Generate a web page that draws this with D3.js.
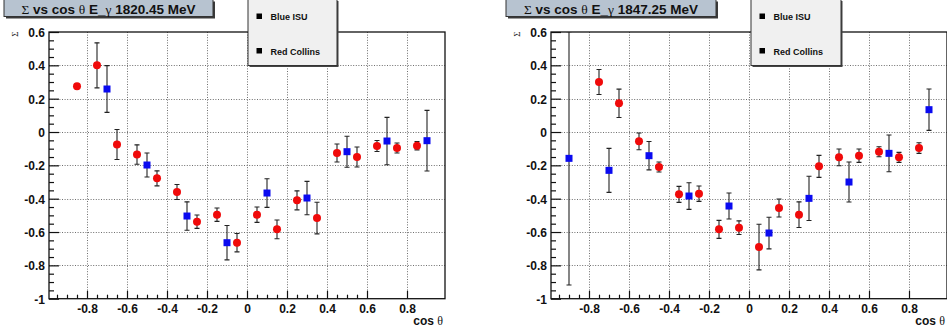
<!DOCTYPE html>
<html><head><meta charset="utf-8">
<script src="https://cdn.jsdelivr.net/npm/d3@7"></script>
<style>
html,body{margin:0;padding:0;background:#fff;}
svg{display:block;}
</style></head>
<body>
<svg id="chart" width="947" height="334"></svg>
<script>
// ---------- data ----------
const energies = ["1820.45", "1847.25"];

const cosCollins1820 = [-0.85,-0.75,-0.65,-0.55,-0.45,-0.35,-0.25,-0.15,-0.05,0.05,0.15,0.25,0.35,0.45,0.55,0.65,0.75,0.85];
const sigCollins1820 = [0.275,0.40,-0.075,-0.135,-0.278,-0.36,-0.538,-0.496,-0.664,-0.496,-0.584,-0.41,-0.516,-0.126,-0.15,-0.084,-0.096,-0.082];
const errCollins1820 = [0,0.135,0.09,0.058,0.045,0.045,0.04,0.04,0.055,0.046,0.056,0.057,0.095,0.054,0.06,0.033,0.03,0.025];

const cosISU1820 = [-0.7,-0.5,-0.3,-0.1,0.1,0.3,0.5,0.7,0.9];
const sigISU1820 = [0.258,-0.198,-0.504,-0.664,-0.366,-0.396,-0.118,-0.054,-0.052];
const errISU1820 = [0.14,0.072,0.085,0.103,0.086,0.1,0.093,0.142,0.182];

const cosCollins1847 = [-0.75,-0.65,-0.55,-0.45,-0.35,-0.25,-0.15,-0.05,0.05,0.15,0.25,0.35,0.45,0.55,0.65,0.75,0.85];
const sigCollins1847 = [0.30,0.172,-0.056,-0.21,-0.374,-0.37,-0.584,-0.574,-0.69,-0.456,-0.496,-0.206,-0.152,-0.142,-0.118,-0.152,-0.096];
const errCollins1847 = [0.075,0.085,0.05,0.03,0.048,0.046,0.054,0.041,0.137,0.054,0.077,0.066,0.05,0.04,0.03,0.03,0.032];

const cosISU1847 = [-0.9,-0.7,-0.5,-0.3,-0.1,0.1,0.3,0.5,0.7,0.9];
const sigISU1847 = [-0.158,-0.23,-0.142,-0.384,-0.444,-0.606,-0.398,-0.30,-0.128,0.134];
const errISU1847 = [0.76,0.132,0.085,0.08,0.078,0.095,0.133,0.12,0.11,0.124];

const xMajorTicks = [-0.8,-0.6,-0.4,-0.2,0,0.2,0.4,0.6,0.8];
const yMajorTicks = [-1,-0.8,-0.6,-0.4,-0.2,0,0.2,0.4,0.6];
const legendLabels = ["Blue ISU", "Red Collins"];
const xTitle = "cos θ";
const yTitle = "Σ";

// ---------- layout ----------
const panels = [
  {energy: energies[0], left: 49, titleBox: [4, 213], legendBox: [248, 337],
   collins: {x: cosCollins1820, y: sigCollins1820, e: errCollins1820},
   isu: {x: cosISU1820, y: sigISU1820, e: errISU1820}},
  {energy: energies[1], left: 551, titleBox: [506, 716], legendBox: [751, 841],
   collins: {x: cosCollins1847, y: sigCollins1847, e: errCollins1847},
   isu: {x: cosISU1847, y: sigISU1847, e: errISU1847}}
];

const plotW = 396, plotTop = 32, plotBottom = 298.7;
const SANS = "'Liberation Sans', Arial, Helvetica, sans-serif";
const SERIF = "'Liberation Serif', 'DejaVu Serif', serif";
const RED = "#f00a0a", BLUE = "#0a0af0";

const svg = d3.select("#chart");
const fmt = d => String(+d.toFixed(1));
const minor = d3.range(-20, 13).map(i => +(i * 0.05).toFixed(2));

panels.forEach((p, pi) => {
  const x = d3.scaleLinear().domain([-0.99, 0.99]).range([p.left, p.left + plotW]);
  const y = d3.scaleLinear().domain([-1, 0.6]).range([plotBottom, plotTop]);
  const g = svg.append("g");

  const clipId = "clip" + pi;
  svg.append("clipPath").attr("id", clipId).append("rect")
    .attr("x", p.left).attr("y", plotTop).attr("width", plotW).attr("height", plotBottom - plotTop);

  // grid
  const grid = g.append("g").attr("stroke", "#6e6e6e").attr("stroke-width", 1)
    .attr("stroke-dasharray", "1,1.6");
  grid.selectAll(".gx").data(xMajorTicks).join("line")
    .attr("x1", d => Math.round(x(d)) + 0.5).attr("x2", d => Math.round(x(d)) + 0.5)
    .attr("y1", plotTop).attr("y2", plotBottom);
  grid.selectAll(".gy").data(yMajorTicks.filter(d => d > -1 && d < 0.6)).join("line")
    .attr("y1", d => Math.round(y(d)) + 0.5).attr("y2", d => Math.round(y(d)) + 0.5)
    .attr("x1", p.left).attr("x2", p.left + plotW);

  // minor ticks
  const xMinor = minor.filter(d => d > -0.99 && d < 0.99 && !xMajorTicks.some(m => Math.abs(m - d) < 1e-6));
  const yMinor = minor.filter(d => d > -1 && d < 0.6 && !yMajorTicks.some(m => Math.abs(m - d) < 1e-6));
  g.append("g").attr("transform", `translate(0,${plotBottom})`)
    .call(d3.axisBottom(x).tickValues(xMinor).tickSizeInner(-4).tickSizeOuter(0).tickFormat(""))
    .call(a => a.select(".domain").remove())
    .call(a => a.selectAll("line").attr("stroke", "#111").attr("stroke-width", 1.2));
  g.append("g").attr("transform", `translate(${p.left},0)`)
    .call(d3.axisLeft(y).tickValues(yMinor).tickSizeInner(-5).tickSizeOuter(0).tickFormat(""))
    .call(a => a.select(".domain").remove())
    .call(a => a.selectAll("line").attr("stroke", "#111").attr("stroke-width", 1.2));

  // major ticks with labels
  g.append("g").attr("transform", `translate(0,${plotBottom})`)
    .call(d3.axisBottom(x).tickValues(xMajorTicks).tickSizeInner(-8).tickSizeOuter(0).tickPadding(6).tickFormat(fmt))
    .call(a => a.select(".domain").remove())
    .call(a => a.selectAll("line").attr("stroke", "#111").attr("stroke-width", 1.2))
    .call(a => a.selectAll("text").attr("font-family", SANS).attr("font-weight", "bold")
      .attr("font-size", 12).attr("fill", "#111").attr("dy", "0.71em"));
  g.append("g").attr("transform", `translate(${p.left},0)`)
    .call(d3.axisLeft(y).tickValues(yMajorTicks).tickSizeInner(-10).tickSizeOuter(0).tickPadding(4).tickFormat(fmt))
    .call(a => a.select(".domain").remove())
    .call(a => a.selectAll("line").attr("stroke", "#111").attr("stroke-width", 1.2))
    .call(a => a.selectAll("text").attr("font-family", SANS).attr("font-weight", "bold")
      .attr("font-size", 12).attr("fill", "#111").attr("dy", "0.36em"));

  // frame
  g.append("rect").attr("x", p.left).attr("y", plotTop).attr("width", plotW).attr("height", plotBottom - plotTop)
    .attr("fill", "none").attr("stroke", "#111").attr("stroke-width", 1.3);

  // axis titles
  const xt = g.append("text").attr("x", p.left + plotW - 2).attr("y", 325)
    .attr("text-anchor", "end").attr("font-family", SANS).attr("font-weight", "bold")
    .attr("font-size", 12).attr("fill", "#111");
  xt.append("tspan").text(xTitle.split(" ")[0] + " ");
  xt.append("tspan").attr("font-family", SERIF).attr("font-weight", "normal").text(xTitle.split(" ")[1]);
  g.append("text").attr("transform", `translate(${p.left - 31},${34}) rotate(-90)`)
    .attr("text-anchor", "middle").attr("font-family", SERIF).attr("font-size", 9)
    .attr("fill", "#222").text(yTitle);

  // data
  const dg = g.append("g").attr("clip-path", `url(#${clipId})`);
  const series = [
    {s: p.collins, color: RED, shape: "circle"},
    {s: p.isu, color: BLUE, shape: "square"}
  ];
  series.forEach(({s, color, shape}) => {
    const pts = s.x.map((v, i) => ({x: v, y: s.y[i], e: s.e[i]}));
    const eb = dg.append("g").attr("stroke", "#222").attr("stroke-width", 1.1);
    pts.filter(d => d.e > 0).forEach(d => {
      const cx = x(d.x);
      eb.append("line").attr("x1", cx).attr("x2", cx).attr("y1", y(d.y + d.e)).attr("y2", y(d.y - d.e));
      eb.append("line").attr("x1", cx - 2.5).attr("x2", cx + 2.5).attr("y1", y(d.y + d.e)).attr("y2", y(d.y + d.e));
      eb.append("line").attr("x1", cx - 2.5).attr("x2", cx + 2.5).attr("y1", y(d.y - d.e)).attr("y2", y(d.y - d.e));
    });
    if (shape === "circle") {
      dg.append("g").selectAll("circle").data(pts).join("circle")
        .attr("cx", d => x(d.x)).attr("cy", d => y(d.y)).attr("r", 4).attr("fill", color);
    } else {
      dg.append("g").selectAll("rect").data(pts).join("rect")
        .attr("x", d => x(d.x) - 3.5).attr("y", d => y(d.y) - 3.5)
        .attr("width", 7).attr("height", 7).attr("fill", color);
    }
  });

  // title box
  const [tx0, tx1] = p.titleBox;
  g.append("rect").attr("x", tx0 + 2).attr("y", 1.5).attr("width", tx1 - tx0).attr("height", 17).attr("fill", "#3a3a3a");
  g.append("rect").attr("x", tx0).attr("y", -0.5).attr("width", tx1 - tx0).attr("height", 17)
    .attr("fill", "#b7c3d0").attr("stroke", "#333").attr("stroke-width", 1);
  const tt = g.append("text").attr("x", (tx0 + tx1) / 2).attr("y", 13.5).attr("text-anchor", "middle")
    .attr("font-family", SANS).attr("font-weight", "bold").attr("font-size", 13.5).attr("fill", "#111");
  const parts = [["Σ", 1], [" vs cos ", 0], ["θ", 1], [" E_", 0], ["γ", 1], [" " + p.energy + " MeV", 0]];
  parts.forEach(([t, greek]) => {
    const ts = tt.append("tspan").text(t);
    if (greek) ts.attr("font-family", SERIF).attr("font-weight", "normal");
  });

  // legend box
  const [lx0, lx1] = p.legendBox;
  g.append("rect").attr("x", lx0 + 1.5).attr("y", 1).attr("width", lx1 - lx0).attr("height", 66).attr("fill", "#444");
  g.append("rect").attr("x", lx0).attr("y", -0.5).attr("width", lx1 - lx0).attr("height", 66)
    .attr("fill", "#f0f0f0").attr("stroke", "#333").attr("stroke-width", 1);
  legendLabels.forEach((lab, i) => {
    const cy = 16.5 + i * 34.5;
    g.append("rect").attr("x", lx0 + 8.5).attr("y", cy - 3).attr("width", 5.5).attr("height", 5.5).attr("fill", "#000");
    g.append("text").attr("x", lx0 + 22.5).attr("y", cy + 3.5).attr("font-family", SANS)
      .attr("font-weight", "bold").attr("font-size", 9).attr("fill", "#111").text(lab);
  });
});
</script>
</body></html>
